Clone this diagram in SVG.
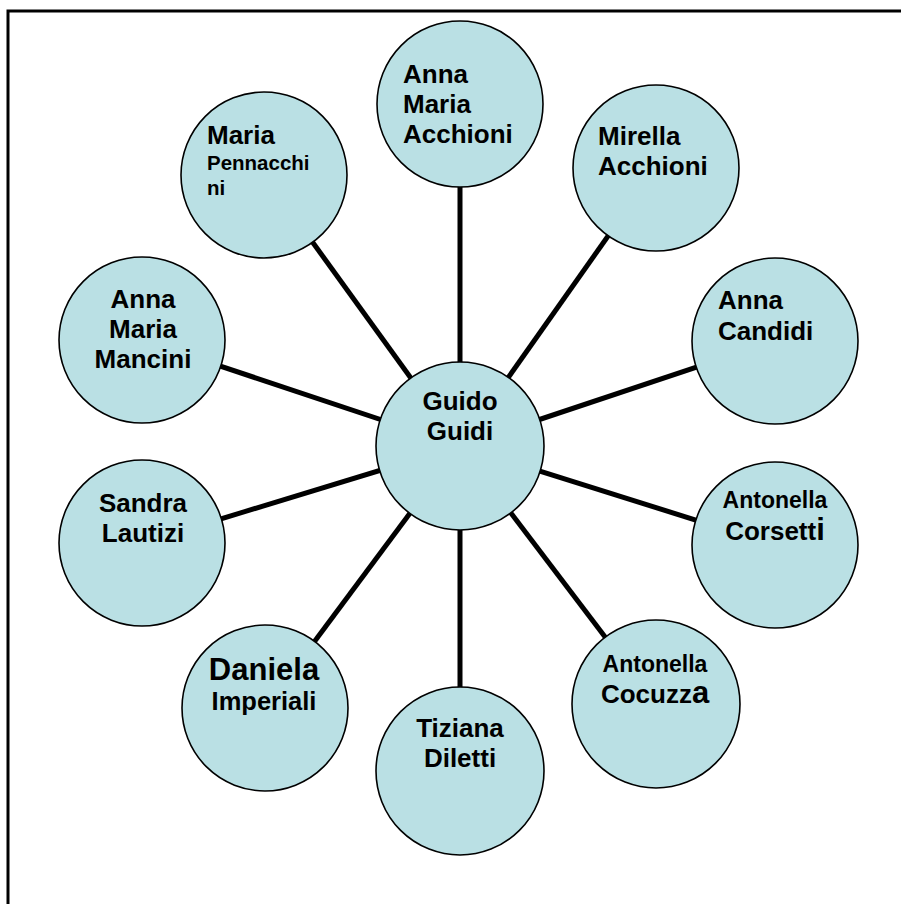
<svg xmlns="http://www.w3.org/2000/svg" width="901" height="904" viewBox="0 0 901 904">
<style>
.n{fill:#BAE0E4;stroke:#000;stroke-width:1.6}
.c{stroke:#000;stroke-width:5;fill:none}
text{font-family:"Liberation Sans",Arial,sans-serif;font-weight:bold;font-size:26px;fill:#000}
.m{text-anchor:middle}
.s19{font-size:20.5px}
.s22{font-size:23px}
.s24{font-size:25.5px}
.s29{font-size:31px}
.big{font-size:31px}
</style>
<rect width="901" height="904" fill="#fff"/>
<path d="M8,904 V11 H901" fill="none" stroke="#000" stroke-width="3"/>
<g id="connectors">
<line class="c" x1="460" y1="446" x2="264" y2="175"/>
<line class="c" x1="460" y1="446" x2="460" y2="105"/>
<line class="c" x1="460" y1="446" x2="656" y2="168"/>
<line class="c" x1="460" y1="446" x2="775" y2="341"/>
<line class="c" x1="460" y1="446" x2="775" y2="545"/>
<line class="c" x1="460" y1="446" x2="656" y2="704"/>
<line class="c" x1="460" y1="446" x2="460" y2="770"/>
<line class="c" x1="460" y1="446" x2="265" y2="708"/>
<line class="c" x1="460" y1="446" x2="142" y2="543"/>
<line class="c" x1="460" y1="446" x2="142" y2="340"/>
</g>
<g id="center">
<circle class="n" cx="460" cy="446" r="84"/>
<text class="m" x="460" y="410">Guido</text>
<text class="m" x="460" y="440">Guidi</text>
</g>
<g id="pennacchini">
<circle class="n" cx="264" cy="175" r="83"/>
<text x="207" y="144">Maria</text>
<text class="s19" x="207" y="170">Pennacchi</text>
<text class="s19" x="207" y="195">ni</text>
</g>
<g id="annamaria-acchioni">
<circle class="n" cx="460" cy="104" r="83"/>
<text x="403" y="83">Anna</text>
<text x="403" y="113">Maria</text>
<text x="403" y="143">Acchioni</text>
</g>
<g id="mirella">
<circle class="n" cx="656" cy="168" r="83"/>
<text x="598" y="145">Mirella</text>
<text x="598" y="175">Acchioni</text>
</g>
<g id="candidi">
<circle class="n" cx="775" cy="341" r="83"/>
<text x="718" y="309">Anna</text>
<text x="718" y="340">Candidi</text>
</g>
<g id="corsetti">
<circle class="n" cx="775" cy="545" r="83"/>
<text class="m s22" x="775" y="508">Antonella</text>
<text class="m" x="775" y="540">Corsett<tspan class="s29">i</tspan></text>
</g>
<g id="cocuzza">
<circle class="n" cx="656" cy="704" r="84"/>
<text class="m s22" x="655" y="672">Antonella</text>
<text class="m" x="655" y="703">Cocuzz<tspan class="s29">a</tspan></text>
</g>
<g id="tiziana">
<circle class="n" cx="460" cy="771" r="84"/>
<text class="m" x="460" y="737">Tiziana</text>
<text class="m" x="460" y="767">Diletti</text>
</g>
<g id="daniela">
<circle class="n" cx="265" cy="708" r="83"/>
<text class="m big" x="264" y="680">Daniela</text>
<text class="m s24" x="264" y="710">Imperiali</text>
</g>
<g id="sandra">
<circle class="n" cx="142" cy="543" r="83"/>
<text class="m" x="143" y="512">Sandra</text>
<text class="m" x="143" y="542">Lautizi</text>
</g>
<g id="mancini">
<circle class="n" cx="142" cy="340" r="83"/>
<text class="m" x="143" y="308">Anna</text>
<text class="m" x="143" y="338">Maria</text>
<text class="m" x="143" y="368">Mancini</text>
</g>
</svg>
